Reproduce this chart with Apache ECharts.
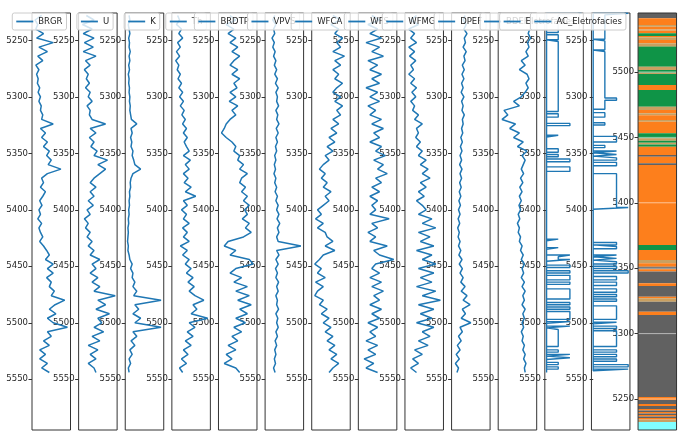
<!DOCTYPE html>
<html><head><meta charset="utf-8">
<script src="https://cdn.jsdelivr.net/npm/echarts@6/dist/echarts.min.js"></script>
<style>html,body{margin:0;padding:0;background:#fff}#c{width:690px;height:433px}</style>
</head><body><div id="c"></div>
<script>
// ---- sampling depths (m) ----
const depth = [5228,5232,5236,5240,5244,5248,5252,5256,5260,5264,5268,5272,5276,5280,5284,5288,5292,5296,5300,5304,5308,5312,5316,5320,5324,5328,5332,5336,5340,5344,5348,5352,5356,5360,5364,5368,5372,5376,5380,5384,5388,5392,5396,5400,5404,5408,5412,5416,5420,5424,5428,5432,5436,5440,5444,5448,5452,5456,5460,5464,5468,5472,5476,5480,5484,5488,5492,5496,5500,5504,5508,5512,5516,5520,5524,5528,5532,5536,5540,5544];

// ---- log curves (relative units, % of track range) ----
const BRGR = [25,8,15,10,30,12,55,18,40,15,28,10,18,12,16,14,20,16,22,18,24,22,28,25,55,22,35,25,40,30,45,38,50,42,75,40,25,30,22,35,28,20,26,18,22,15,25,18,22,28,20,30,38,45,35,55,40,55,38,50,45,58,50,85,60,45,62,40,55,92,40,50,30,45,20,35,20,40,25,45];
const U = [20,40,10,35,12,40,15,38,12,45,18,30,15,25,20,28,18,30,25,35,22,30,28,35,70,30,45,28,40,32,48,40,75,50,70,55,40,30,45,30,40,25,38,22,30,15,25,18,30,22,35,25,40,30,55,35,45,30,50,35,55,40,95,50,70,45,80,50,60,40,65,35,55,25,50,30,45,25,40,45];
const K = [10,12,8,10,12,9,11,10,13,10,12,9,11,8,10,9,11,10,12,11,13,12,14,16,30,15,18,14,17,15,20,18,22,25,40,20,15,13,14,11,12,10,11,9,10,8,9,7,8,7,6,8,7,10,12,18,14,20,18,25,20,30,22,93,25,35,20,40,25,93,20,30,15,25,12,18,10,14,8,10];
const Th = [15,20,12,25,18,28,15,22,12,20,10,18,14,22,16,25,18,28,20,30,22,32,26,35,28,38,30,40,32,38,45,30,48,35,45,30,42,32,50,35,62,30,40,25,38,30,45,28,40,30,45,22,40,28,45,35,50,38,55,42,58,45,60,83,55,65,50,93,45,60,40,55,35,50,30,42,25,38,20,28];
const BRDTP = [30,45,20,40,25,45,30,50,35,55,40,30,50,35,55,40,48,30,45,28,50,35,45,30,20,15,8,20,35,45,40,55,50,65,55,75,60,55,70,60,75,65,80,68,75,62,80,70,85,65,25,15,45,30,80,90,45,30,60,40,75,45,80,50,85,55,75,45,70,40,60,35,50,25,45,20,35,15,45,55];
const VPVS = [25,20,28,22,25,18,24,20,26,22,28,24,30,25,32,27,34,28,32,30,35,28,33,30,36,29,34,28,32,27,30,25,28,24,27,23,28,25,30,26,32,28,34,30,36,31,38,32,36,30,34,93,30,36,28,34,27,32,28,35,30,34,28,32,30,35,28,33,30,34,28,32,26,30,25,28,24,27,22,26];
const WFCA = [55,75,50,70,60,80,65,75,55,85,60,75,55,70,60,80,65,55,75,60,80,65,75,55,70,50,65,45,60,40,55,35,45,30,20,35,25,40,30,50,35,45,30,15,25,10,30,15,35,40,55,35,60,30,20,8,25,15,35,10,30,15,8,30,20,40,25,45,30,50,35,55,40,60,45,65,50,70,55,45];
const WFS = [35,55,25,50,30,60,20,55,35,65,25,50,30,60,35,55,20,50,30,55,25,45,30,60,35,65,40,55,30,60,45,70,40,65,50,75,45,60,35,55,30,50,35,45,30,80,35,50,25,45,30,75,40,55,92,45,35,55,30,60,35,65,40,55,30,60,35,55,25,50,30,45,20,50,25,45,15,40,20,50];
const WFMG = [30,15,35,10,25,15,30,10,25,12,28,15,22,10,25,15,30,18,28,15,25,20,35,25,45,30,35,28,40,30,45,35,55,40,60,45,65,40,55,35,50,30,45,55,35,70,45,80,35,65,40,75,30,70,45,80,35,75,40,70,30,80,45,92,35,75,40,70,30,75,45,65,35,60,25,45,20,35,15,30];
const DPEF = [35,30,38,32,40,33,36,30,38,32,35,28,33,27,32,26,30,25,32,26,30,27,33,28,30,26,29,24,28,23,27,22,26,21,27,22,26,21,25,20,24,19,23,18,22,17,21,16,20,17,22,18,24,19,27,20,28,22,30,24,35,25,40,30,48,28,36,25,50,22,28,18,25,15,22,12,20,10,18,14];
const BDEF = [85,80,88,82,78,84,76,80,72,78,60,70,55,75,80,72,78,70,60,40,55,15,25,10,45,30,55,40,65,50,75,62,70,65,60,66,58,64,56,62,55,60,54,58,52,56,50,55,52,58,55,62,58,65,60,68,62,66,60,68,62,70,64,68,62,70,64,68,62,66,60,65,62,68,64,70,66,72,68,70];

const curveNames = ['BRGR','U','K','Th','BRDTP','VPVS','WFCA','WFS','WFMG','DPEF','BDEF'];
const curveValues = [BRGR,U,K,Th,BRDTP,VPVS,WFCA,WFS,WFMG,DPEF,BDEF];

// ---- facies step logs: [top depth, bottom depth, class] ----
const eletrofacies = [
 [5226,5227.5,3],[5227.5,5243,1],[5243,5245,0],[5245,5249.5,1],[5249.5,5251,0],[5251,5313,1],
 [5313,5315,0],[5315,5318,1],[5318,5323.5,0],[5323.5,5325.5,2],[5325.5,5334,0],[5334,5335.5,1],
 [5335.5,5346,0],[5346,5349,1],[5349,5351,0],[5351,5353,1],[5353,5355,0],[5355,5357.5,2],
 [5357.5,5362,0],[5362,5366,2],[5366,5426,0],[5426,5427.5,1],[5427.5,5433.5,0],[5433.5,5435,1],
 [5435,5440,0],[5440,5441.5,2],[5441.5,5444,1],[5444,5445.5,2],[5445.5,5449,0],[5449,5451,2],
 [5451,5454,0],[5454,5456,2],[5456,5458,0],[5458,5462,2],[5462,5464,0],[5464,5466,2],
 [5466,5470,0],[5470,5479,2],[5479,5482,0],[5482,5484,2],[5484,5486,0],[5486,5488,2],
 [5488,5490,0],[5490,5497,2],[5497,5499,0],[5499,5500.5,2],[5500.5,5503,0],[5503,5504.5,2],
 [5504.5,5506,0],[5506,5521,1],[5521,5524,0],[5524,5526,1],[5526,5528,0],[5528,5529.5,2],
 [5529.5,5531,0],[5531,5532.5,2],[5532.5,5535,0],[5535,5537,1],[5537,5539,0],[5539,5541,1],[5541,5544,0]
];
const acEletrofacies = [
 [5226,5227.5,3],[5227.5,5249,1],[5249,5250.5,0],[5250.5,5258.5,1],[5258.5,5260,0],[5260,5301,1],
 [5301,5303,2],[5303,5311,1],[5311,5314,0],[5314,5318,1],[5318,5323,0],[5323,5325,1],
 [5325,5335,0],[5335,5340,2],[5340,5343,0],[5343,5345,1],[5345,5348,0],[5348,5349.5,2],
 [5349.5,5351,0],[5351,5352.5,2],[5352.5,5354,0],[5354,5356,2],[5356,5358,0],[5358,5361,2],
 [5361,5368,0],[5368,5398,2],[5398,5399.5,3],[5399.5,5429,0],[5429,5431,2],[5431,5432.5,0],
 [5432.5,5434.5,2],[5434.5,5440,0],[5440,5441.5,2],[5441.5,5443,0],[5443,5444.5,2],[5444.5,5446,0],
 [5446,5448,2],[5448,5450,0],[5450,5452,2],[5452,5454,0],[5454,5456,3],[5456,5459,0],
 [5459,5462,2],[5462,5464,0],[5464,5467,2],[5467,5470,0],[5470,5473,2],[5473,5475,0],
 [5475,5477,2],[5477,5479,0],[5479,5481,2],[5481,5485,0],[5485,5497,2],[5497,5499.5,0],
 [5499.5,5501,2],[5501,5503,0],[5503,5505,2],[5505,5507,0],[5507,5521,2],[5521,5524,0],
 [5524,5526,2],[5526,5528,0],[5528,5530,2],[5530,5532,0],[5532,5534,2],[5534,5537,0],
 [5537,5539,3],[5539,5541,0],[5541,5542.5,3],[5542.5,5544,0]
];

// ---- facies column: [upper depth, lower depth, facies code] ----
const faciesColumn = [
 [5545.3,5541.0,'G'],[5541.0,5535.9,'O'],[5535.9,5534.6,'T'],[5534.6,5532.5,'O'],[5532.5,5531.5,'T'],
 [5531.5,5529.6,'O'],[5529.6,5527.5,'N'],[5527.5,5526.5,'O'],[5526.5,5524.5,'T'],[5524.5,5521.9,'O'],
 [5521.9,5519.9,'T'],[5519.9,5519.4,'O'],[5519.4,5504.1,'N'],[5504.1,5501.5,'T'],[5501.5,5499.5,'N'],
 [5499.5,5498.5,'T'],[5498.5,5490.1,'N'],[5490.1,5486.2,'O'],[5486.2,5473.5,'N'],[5473.5,5470.9,'T'],
 [5470.9,5468.4,'O'],[5468.4,5467.0,'T'],[5467.0,5463.3,'O'],[5463.3,5462.0,'T'],[5462.0,5453.1,'O'],
 [5453.1,5449.3,'N'],[5449.3,5447.5,'T'],[5447.5,5446.0,'N'],[5446.0,5444.5,'T'],[5444.5,5442.9,'N'],
 [5442.9,5436.5,'O'],[5436.5,5435.2,'G'],[5435.2,5430.2,'O'],[5430.2,5428.9,'G'],[5428.9,5367.7,'O'],
 [5367.7,5363.9,'N'],[5363.9,5356.3,'O'],[5356.3,5353.7,'T'],[5353.7,5351.2,'O'],[5351.2,5349.2,'G'],
 [5349.2,5347.4,'O'],[5347.4,5338.5,'G'],[5338.5,5336.4,'O'],[5336.4,5328.2,'G'],[5328.2,5327.0,'O'],
 [5327.0,5324.4,'T'],[5324.4,5316.7,'G'],[5316.7,5314.2,'O'],[5314.2,5251.5,'G'],[5251.5,5249.2,'O'],
 [5249.2,5246.2,'G'],[5246.2,5244.7,'O'],[5244.7,5242.4,'G'],[5242.4,5241.2,'O'],[5241.2,5240.1,'G'],
 [5240.1,5238.9,'O'],[5238.9,5237.8,'G'],[5237.8,5236.6,'O'],[5236.6,5235.5,'G'],[5235.5,5234.3,'O'],
 [5234.3,5232.4,'T'],[5232.4,5226.3,'C']
];
const faciesColors = {G:'#616161', O:'#fd7f1c', N:'#0f9447', T:'#c9a062', C:'#80ffff'};

const depthTicks = [5250,5300,5350,5400,5450,5500,5550];
const columnTicks = [5250,5300,5350,5400,5450,5500];

// ---- layout ----
const BLUE = '#1f77b4';
const L0 = 32, STEP = 46.62, W = 38.5, TOP = 13, H = 417;
const FONT = 'DejaVu Sans';

const grids = [], xAxes = [], yAxes = [], series = [], legends = [];
for (let k = 0; k < 14; k++) {
  grids.push({left: L0 + STEP*k, top: TOP, width: W, height: H, show: true,
    borderColor: '#333', borderWidth: 1, backgroundColor: 'transparent', z: k === 13 ? 5 : 0});
}
function baseX(k, min, max) {
  return {type:'value', gridIndex:k, min:min, max:max,
    axisLine:{show:false}, axisTick:{show:false}, axisLabel:{show:false}, splitLine:{show:false}};
}
function baseY(k, min, max, inverse, ticks) {
  return {type:'value', gridIndex:k, min:min, max:max, inverse:inverse,
    axisLine:{show:false},
    axisTick:{show:true, customValues:ticks, length:3.5, lineStyle:{color:'#333', width:1}},
    axisLabel:{show:true, customValues:ticks, fontSize:8.5, fontFamily:FONT, color:'#262626', margin:4,
      formatter: v => String(v)},
    splitLine:{show:false}};
}
function legendFor(k, name) {
  const right = 690 - (L0 + STEP*k + W - 4);
  return {data:[name], right:right, top:13, orient:'horizontal', icon:'rect',
    itemWidth:17, itemHeight:1.8, itemGap:4, padding:[4,4,4,4],
    backgroundColor:'rgba(255,255,255,0.8)', borderColor:'#cccccc', borderWidth:1, borderRadius:2,
    textStyle:{fontSize:8.5, fontFamily:FONT, color:'#262626'},
    selectedMode:false, z:10+k};
}

// curve tracks
curveNames.forEach((name, k) => {
  xAxes.push(baseX(k, 0, 100));
  yAxes.push(baseY(k, 5225.8, 5594.9, true, depthTicks));
  const vals = curveValues[k];
  series.push({type:'line', name:name, xAxisIndex:k, yAxisIndex:k, symbol:'none', showSymbol:false,
    data: depth.map((d, i) => [vals[i], d]),
    lineStyle:{width:1.5, color:BLUE}, itemStyle:{color:BLUE}, animation:false, z:2});
  legends.push(legendFor(k, name));
});

// facies step tracks (outline of fill from 0 to class)
function stepOutline(segs) {
  const pts = [];
  segs.forEach(s => { pts.push([s[2], s[0]]); pts.push([s[2], s[1]]); });
  pts.push([0, segs[segs.length-1][1]]);
  pts.push([0, segs[0][0]]);
  pts.push([segs[0][2], segs[0][0]]);
  return pts;
}
[['Eletrofacies', eletrofacies], ['AC_Eletrofacies', acEletrofacies]].forEach((item, j) => {
  const k = 11 + j;
  xAxes.push(baseX(k, -0.15, 3.15));
  yAxes.push(baseY(k, 5225.8, 5594.9, true, depthTicks));
  series.push({type:'line', name:item[0], xAxisIndex:k, yAxisIndex:k, symbol:'none', showSymbol:false,
    data: stepOutline(item[1]), lineStyle:{width:1.4, color:BLUE}, itemStyle:{color:BLUE}, animation:false, z:2});
  legends.push(legendFor(k, item[0]));
});

// facies column
xAxes.push(baseX(13, 0, 1));
yAxes.push(baseY(13, 5226.3, 5545.1, false, columnTicks));
series.push({type:'custom', xAxisIndex:13, yAxisIndex:13, animation:false, clip:true,
  data: faciesColumn.map(r => [r[0], r[1]]),
  encode:{y:[0,1]},
  renderItem: function(params, api) {
    const p1 = api.coord([0, api.value(0)]);
    const p2 = api.coord([1, api.value(1)]);
    return {type:'rect', shape:{x:p1[0], y:p1[1], width:p2[0]-p1[0], height:p2[1]-p1[1]},
      style:{fill: faciesColors[faciesColumn[params.dataIndex][2]], stroke:null}};
  }, z:1});
columnTicks.forEach(v => {
  series.push({type:'line', xAxisIndex:13, yAxisIndex:13, symbol:'none', silent:true, animation:false,
    data:[[0, v],[1, v]], lineStyle:{width:1, color:'rgba(255,255,255,0.55)'}, z:3});
});

const chart = echarts.init(document.getElementById('c'), null, {renderer:'canvas'});
chart.setOption({animation:false, grid:grids, xAxis:xAxes, yAxis:yAxes, series:series, legend:legends});
</script></body></html>
